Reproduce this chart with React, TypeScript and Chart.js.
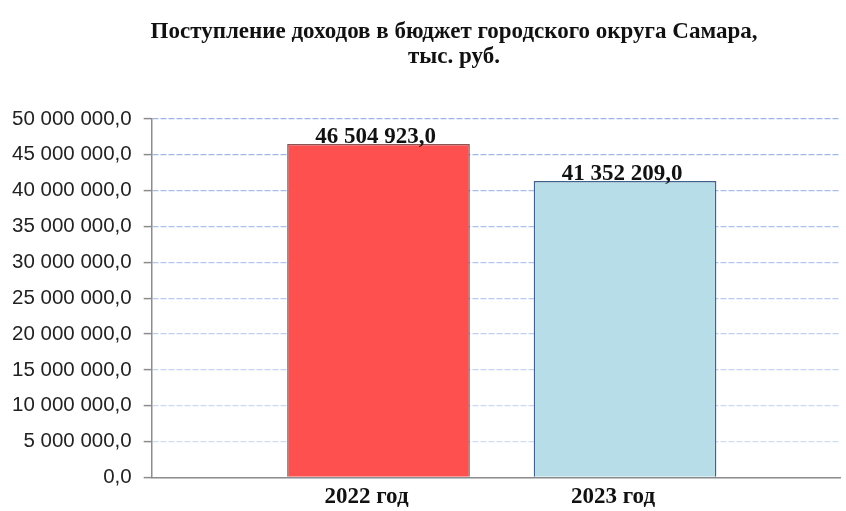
import React, { useEffect, useRef } from "react";
import { Chart, registerables } from "chart.js";

Chart.register(...registerables);

const titleLines = ["Поступление доходов в бюджет городского округа Самара,", "тыс. руб."];
const categories = ["2022 год", "2023 год"];
const categoryPositions = [1, 2];
const values = [46504923.0, 41352209.0];
const barColors = ["#FF5050", "#B7DDE8"];
const barBorderColors = ["#8E5252", "#41628D"];
const yMin = 0;
const yMax = 50000000;
const yStep = 5000000;

function fmt(v: number): string {
  const [i, d] = v.toFixed(1).split(".");
  return i.replace(/\B(?=(\d{3})+(?!\d))/g, " ") + "," + d;
}

const titlePlugin = {
  id: "customTitle",
  afterDraw(chart: any) {
    const ctx = chart.ctx;
    ctx.save();
    ctx.fillStyle = "#111";
    ctx.font = "bold 23px 'Liberation Serif'";
    ctx.textAlign = "center";
    ctx.textBaseline = "middle";
    ctx.fillText(titleLines[0], 454, 32);
    ctx.fillText(titleLines[1], 454, 57);
    ctx.restore();
  },
};

const valueLabelPlugin = {
  id: "valueLabels",
  afterDatasetsDraw(chart: any) {
    const ctx = chart.ctx;
    const meta = chart.getDatasetMeta(0);
    ctx.save();
    ctx.fillStyle = "#111";
    ctx.font = "bold 23px 'Liberation Serif'";
    ctx.textAlign = "center";
    ctx.textBaseline = "alphabetic";
    meta.data.forEach((bar: any, i: number) => {
      ctx.fillText(fmt(values[i]), bar.x - 3, bar.y - 1);
    });
    ctx.restore();
  },
};

export default function App() {
  const ref = useRef<HTMLCanvasElement>(null);
  useEffect(() => {
    if (!ref.current) return;
    const chart = new Chart(ref.current, {
      type: "bar",
      data: {
        datasets: [
          {
            data: values.map((v, i) => ({ x: categoryPositions[i], y: v })),
            backgroundColor: barColors,
            borderColor: barBorderColors,
            borderWidth: 1.5,
            barPercentage: 0.741,
            categoryPercentage: 1,
          },
        ],
      },
      options: {
        animation: false,
        responsive: false,
        layout: { padding: { top: 119, right: 6, bottom: -6, left: 0 } },
        plugins: { legend: { display: false }, tooltip: { enabled: false }, title: { display: false } },
        scales: {
          x: {
            type: "linear",
            offset: false,
            min: 0.08,
            max: 2.872,
            afterBuildTicks: (axis: any) => {
              axis.ticks = categoryPositions.map((v) => ({ value: v }));
            },
            ticks: {
              autoSkip: false,
              maxRotation: 0,
              padding: 6,
              labelOffset: -12,
              color: "#111",
              font: { family: "'Liberation Serif'", size: 23, weight: "bold" },
              callback: (v: any) => {
                const idx = categoryPositions.indexOf(Number(v));
                return idx >= 0 ? categories[idx] : "";
              },
            },
            grid: { display: false, drawTicks: false },
            border: { display: true, color: "#8C8C8C", width: 1.5 },
          },
          y: {
            min: yMin,
            max: yMax,
            ticks: {
              stepSize: yStep,
              padding: 12,
              color: "#222",
              font: { family: "'Liberation Sans'", size: 20.5 },
              callback: (v: any) => fmt(Number(v)),
            },
            grid: {
              color: (c: any) => {
                const t = c.tick ? c.tick.value / yMax : 0;
                const r = Math.round(215 - 60 * t);
                const g = Math.round(224 - 44 * t);
                const b = Math.round(246 - 12 * t);
                return `rgb(${r},${g},${b})`;
              },
              lineWidth: 1.2,
              tickLength: 8,
              tickColor: "#8C8C8C",
              tickWidth: 1.5,
            },
            border: { display: true, color: "#8C8C8C", width: 1.5, dash: [6, 2] },
          },
        },
      },
      plugins: [titlePlugin, valueLabelPlugin],
    } as any);
    return () => chart.destroy();
  }, []);
  return (
    <div style={{ position: "absolute", left: 0, top: 0, width: 846, height: 511, background: "#fff" }}>
      <canvas ref={ref} width={846} height={511} />
    </div>
  );
}
